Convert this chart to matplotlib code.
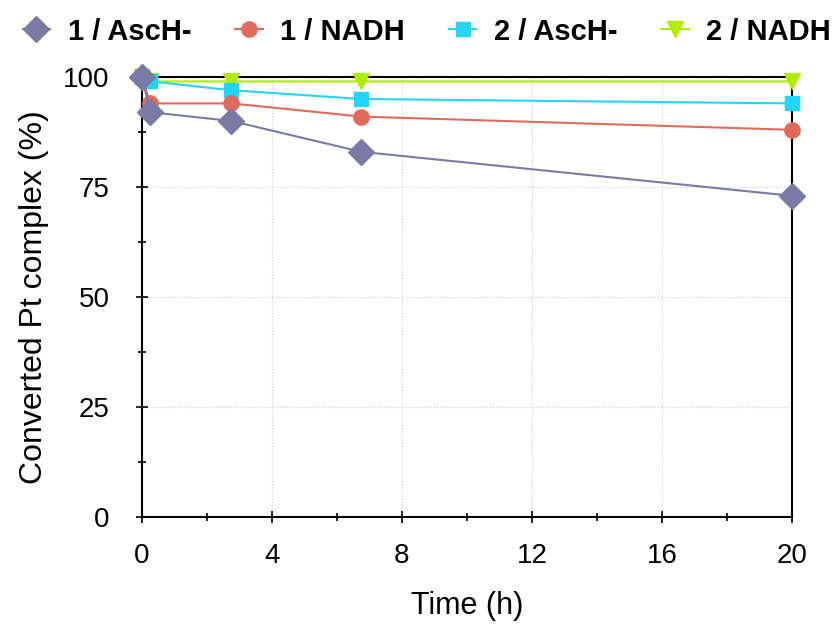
import matplotlib
matplotlib.use("Agg")
import matplotlib.pyplot as plt
from matplotlib.ticker import MultipleLocator

plt.rcParams['font.family'] = ['Liberation Sans', 'DejaVu Sans']

# sampling times (h)
time_h = [0, 0.25, 2.75, 6.75, 20]

# converted Pt complex (%)
c1_asch = [100, 92, 90, 83, 73]
c1_nadh = [100, 94, 94, 91, 88]
c2_asch = [100, 99, 97, 95, 94]
c2_nadh = [100, 99, 99, 99, 99]

labels = ['1 / AscH-', '1 / NADH', '2 / AscH-', '2 / NADH']
colors = ['#7b7aa6', '#e26a5c', '#22d6fa', '#b0ec00']
markers = ['D', 'o', 's', 'v']
msizes = [13, 11, 10, 12]
series = [c1_asch, c1_nadh, c2_asch, c2_nadh]

fig = plt.figure(figsize=(8.37, 6.24), dpi=100)
ax = fig.add_axes([0.1697, 0.1715, 0.7763, 0.7051])

# draw back to front so the first series sits on top like the original
for i in reversed(range(4)):
    ax.plot(time_h, series[i], color=colors[i], marker=markers[i], ms=msizes[i],
            lw=1.5, label=labels[i], clip_on=False, zorder=3 + (4 - i))

ax.set_xlim(0, 20)
ax.set_ylim(0, 100)
ax.xaxis.set_major_locator(MultipleLocator(4))
ax.xaxis.set_minor_locator(MultipleLocator(2))
ax.yaxis.set_major_locator(MultipleLocator(25))
ax.yaxis.set_minor_locator(MultipleLocator(12.5))
ax.grid(True, which='major', color='#cccccc', ls=':', lw=0.8)
ax.tick_params(which='both', direction='inout', width=1.2, labelsize=20)
ax.tick_params(which='major', length=9)
ax.tick_params(which='minor', length=6)
ax.tick_params(axis='x', pad=14)
ax.tick_params(axis='y', pad=19)
for s in ax.spines.values():
    s.set_linewidth(1.5)

ax.set_xlabel('Time (h)', fontsize=22, labelpad=16)
ax.set_ylabel('Converted Pt complex (%)', fontsize=23, labelpad=10)

h, l = ax.get_legend_handles_labels()
fig.legend(h[::-1], l[::-1], loc='upper center', bbox_to_anchor=(0.51, 1.0), ncol=4,
           frameon=False, prop={'weight': 'bold', 'size': 21}, handlelength=0.95,
           columnspacing=1.5, handletextpad=0.6, borderaxespad=0.2)

fig.savefig('out.png', dpi=100)
